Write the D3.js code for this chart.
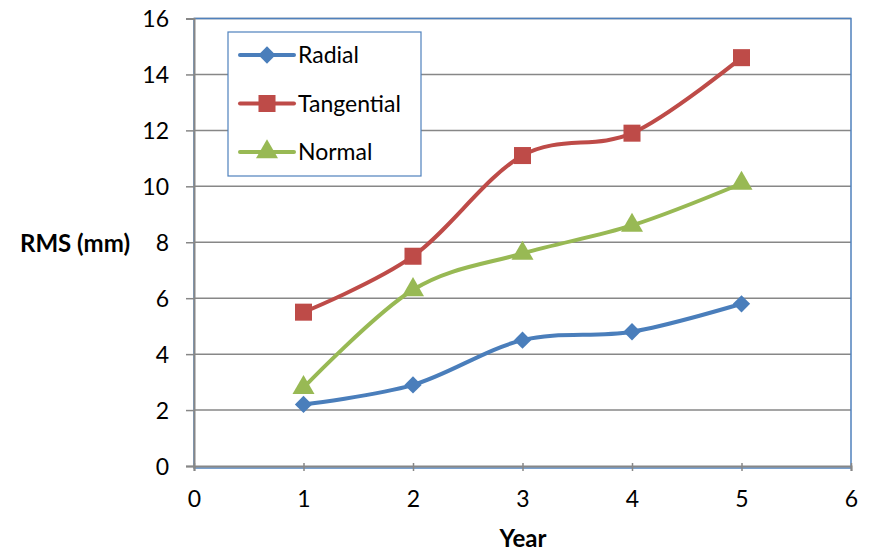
<!DOCTYPE html>
<html>
<head>
<meta charset="utf-8">
<script src="https://cdn.jsdelivr.net/npm/d3@7"></script>
<style>
  body { margin: 0; background: #fff; }
  svg text { font-family: Lato, "Open Sans", sans-serif; fill: #000; }
</style>
</head>
<body>
<svg id="canvas"></svg>
<script>
const WIDTH = 869;
const HEIGHT = 552;

const years = [1, 2, 3, 4, 5];
const radial = [2.2, 2.9, 4.5, 4.8, 5.8];
const tangential = [5.5, 7.5, 11.1, 11.9, 14.6];
const normal = [2.8, 6.3, 7.6, 8.6, 10.1];
const xTicks = [0, 1, 2, 3, 4, 5, 6];
const yTicks = [0, 2, 4, 6, 8, 10, 12, 14, 16];

const series = [
  { name: "Radial", values: radial, color: "#4A7EBB", symbol: d3.symbolDiamond2, size: 190 },
  { name: "Tangential", values: tangential, color: "#BE4B48", symbol: d3.symbolSquare, size: 290 },
  { name: "Normal", values: normal, color: "#98B954", symbol: d3.symbolTriangle, size: 210 },
];

const canvas = d3.select("#canvas").attr("width", WIDTH).attr("height", HEIGHT);

const xScale = d3.scaleLinear().domain([0, 6]).range([194, 851]);
const yScale = d3.scaleLinear().domain([0, 16]).range([466, 18.5]);

// gridlines
canvas.append("g")
  .selectAll("line")
  .data(yTicks.filter((d) => d > 0))
  .enter()
  .append("line")
  .attr("x1", xScale(0))
  .attr("x2", xScale(6))
  .attr("y1", (d) => yScale(d))
  .attr("y2", (d) => yScale(d))
  .attr("stroke", "#878787")
  .attr("stroke-width", 1.5);

// plot border
canvas.append("rect")
  .attr("x", xScale(0))
  .attr("y", yScale(16))
  .attr("width", xScale(6) - xScale(0))
  .attr("height", yScale(0) - yScale(16) + 2)
  .attr("fill", "none")
  .attr("stroke", "#4F81BD")
  .attr("stroke-width", 1.5);

// axes
const yAxis = d3.axisLeft(yScale).tickValues(yTicks).tickSize(8).tickPadding(17);
const yG = canvas.append("g").attr("transform", `translate(${xScale(0)}, 0)`).call(yAxis);

const xAxis = d3.axisBottom(xScale).tickValues(xTicks).tickFormat(d3.format("d")).tickSize(5);
const xG = canvas.append("g").attr("transform", `translate(0, ${yScale(0)})`).call(xAxis);

[yG, xG].forEach((g) => {
  g.select(".domain").attr("stroke", "#878787").attr("stroke-width", 2);
  g.selectAll(".tick line").attr("stroke", "#878787").attr("stroke-width", 1.5);
  g.selectAll(".tick text").style("font-size", "23px");
});
yG.selectAll(".tick text").attr("dy", "0.36em");
xG.selectAll(".tick line").attr("y1", -3);
xG.selectAll(".tick text").attr("dy", null).attr("y", 41);

// axis titles
canvas.append("text")
  .attr("x", 75)
  .attr("y", 252)
  .attr("text-anchor", "middle")
  .style("font-size", "24px")
  .style("font-weight", "bold")
  .text("RMS (mm)");

canvas.append("text")
  .attr("x", 523)
  .attr("y", 547)
  .attr("text-anchor", "middle")
  .style("font-size", "24px")
  .style("font-weight", "bold")
  .text("Year");

// lines
const line = d3.line()
  .x((d, i) => xScale(years[i]))
  .y((d) => yScale(d))
  .curve(d3.curveCardinal.tension(0));

series.forEach((s) => {
  canvas.append("path")
    .datum(s.values)
    .attr("d", line)
    .attr("fill", "none")
    .attr("stroke", s.color)
    .attr("stroke-width", 4)
    .attr("stroke-linecap", "round");

  canvas.append("g")
    .selectAll("path")
    .data(s.values)
    .enter()
    .append("path")
    .attr("d", d3.symbol().type(s.symbol).size(s.size))
    .attr("transform", (d, i) => `translate(${xScale(years[i])}, ${yScale(d)})`)
    .attr("fill", s.color);
});

// legend
const legend = canvas.append("g").attr("transform", "translate(228, 32)");
legend.append("rect")
  .attr("width", 193)
  .attr("height", 144)
  .attr("fill", "#fff")
  .attr("stroke", "#4F81BD")
  .attr("stroke-width", 1.2);

series.forEach((s, i) => {
  const cy = 23 + i * 48.5;
  legend.append("line")
    .attr("x1", 12)
    .attr("x2", 66)
    .attr("y1", cy)
    .attr("y2", cy)
    .attr("stroke", s.color)
    .attr("stroke-width", 4)
    .attr("stroke-linecap", "round");
  legend.append("path")
    .attr("d", d3.symbol().type(s.symbol).size(s.size))
    .attr("transform", `translate(39, ${cy})`)
    .attr("fill", s.color);
  legend.append("text")
    .attr("x", 70)
    .attr("y", cy + 8)
    .style("font-size", "23px")
    .text(s.name);
});
</script>
</body>
</html>
